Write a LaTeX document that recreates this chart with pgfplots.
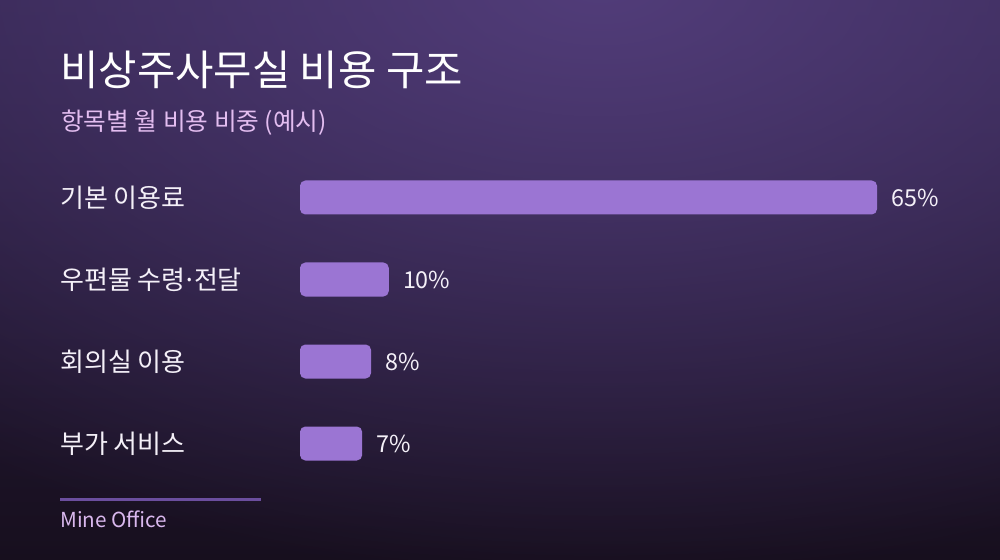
\documentclass[border=0pt]{standalone}
\usepackage{fontspec}
\setmainfont{Noto Sans CJK KR}
\usepackage{pgfplots}
\pgfplotsset{compat=1.18}
\usetikzlibrary{fadings}
\definecolor{barc}{HTML}{9B75D3}
\definecolor{bgtop}{HTML}{2F2249}
\definecolor{bgmid}{HTML}{241933}
\definecolor{bgbot}{HTML}{170F1E}
\definecolor{glow}{HTML}{523D7A}
\definecolor{subc}{HTML}{E3BDF0}
\definecolor{footc}{HTML}{D9B8EE}
\definecolor{linec}{HTML}{6B4E9E}
\definecolor{txt}{HTML}{F4F0F8}
\tikzfading[name=glowfade, inner color=transparent!0, outer color=transparent!100]
\begin{document}
\begin{tikzpicture}
\useasboundingbox (0,0) rectangle (750pt,420pt);
\begin{scope}[x=0.75pt,y=-0.75pt,yshift=420pt]
  \clip (0,0) rectangle (1000,560);
  \shade[top color=bgtop, middle color=bgmid, bottom color=bgbot] (0,0) rectangle (1000,560);
  \fill[glow, path fading=glowfade] (600,-20) ellipse (1050 and 600);
  \node[anchor=base west, inner sep=0pt, text=white, font=\fontsize{31.3}{31.3}\selectfont] at (60,86) {비상주사무실 비용 구조};
  \node[anchor=base west, inner sep=0pt, text=subc, font=\fontsize{18.5}{18.5}\selectfont] at (61,131) {항목별 월 비용 비중 (예시)};
  \draw[linec, line width=2.25pt] (60,500) -- (261,500);
  \node[anchor=base west, inner sep=0pt, text=footc, font=\fontsize{15.5}{15.5}\selectfont] at (60,528) {Mine Office};
\end{scope}
\begin{axis}[
  at={(225pt,271.875pt)}, anchor=origin,
  x=6.658pt, y=61.5pt, y dir=reverse,
  xmin=0, xmax=65, ymin=-0.5, ymax=3.5,
  axis line style={draw=none}, major tick length=0pt,
  xtick=\empty, ytick={0,1,2,3},
  yticklabels={기본 이용료, 우편물 수령\kern-0.12em·\kern-0.12em전달, 회의실 이용, 부가 서비스},
  yticklabel style={anchor=west, inner sep=0pt, xshift=-180pt, text=txt, font=\fontsize{19.5}{19.5}\selectfont},
  xbar, bar width=25.5pt, clip=false,
  point meta=x,
  nodes near coords={\pgfmathprintnumber[assume math mode=true]{\pgfplotspointmeta}\%},
  nodes near coords align={horizontal},
  every node near coord/.append style={anchor=west, inner sep=0pt, xshift=10.5pt, text=txt, font=\fontsize{17.5}{17.5}\selectfont},
]
\addplot[fill=barc, draw=none, rounded corners=4pt] coordinates {(65,0) (10,1) (8,2) (7,3)};
\end{axis}
\end{tikzpicture}
\end{document}
